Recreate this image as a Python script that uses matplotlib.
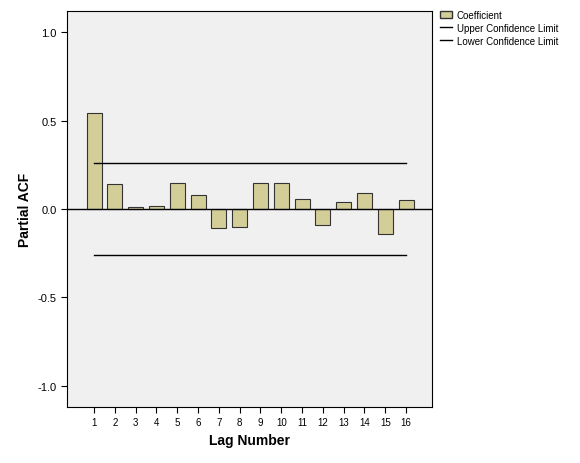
import matplotlib
matplotlib.use("Agg")
import matplotlib.pyplot as plt
from matplotlib.patches import Patch
from matplotlib.lines import Line2D

lags = list(range(1, 17))
pacf = [0.545, 0.14, 0.01, 0.015, 0.145, 0.08, -0.105, -0.10,
        0.145, 0.15, 0.055, -0.09, 0.04, 0.09, -0.14, 0.05]
upper = 0.26
lower = -0.26

plt.rcParams['font.family'] = ['Liberation Sans', 'DejaVu Sans']
fig = plt.figure(figsize=(5.8, 4.64), dpi=100)
ax = fig.add_axes([0.1155, 0.1207, 0.6295, 0.853])
ax.set_facecolor('#F0F0F0')

ax.bar(lags, pacf, width=0.72, color='#D3CE98', edgecolor='#333333', linewidth=0.8, zorder=2)
ax.plot([lags[0], lags[-1]], [upper, upper], color='black', linewidth=1, zorder=3)
ax.plot([lags[0], lags[-1]], [lower, lower], color='black', linewidth=1, zorder=3)
ax.axhline(0, color='black', linewidth=1, zorder=3)

ax.set_xlim(-0.3, 17.25)
ax.set_ylim(-1.12, 1.12)
ax.set_xticks(lags)
ax.set_xticklabels([str(l) for l in lags], fontsize=7)
ax.set_yticks([1.0, 0.5, 0.0, -0.5, -1.0])
ax.set_yticklabels(['1.0', '0.5', '0.0', '-0.5', '-1.0'], fontsize=8)
ax.tick_params(length=4, width=0.8)
ax.set_xlabel('Lag Number', fontsize=10, fontweight='bold')
ax.set_ylabel('Partial ACF', fontsize=10, fontweight='bold')

handles = [Patch(facecolor='#D3CE98', edgecolor='#333333', label='Coefficient'),
           Line2D([], [], color='black', linewidth=1, label='Upper Confidence Limit'),
           Line2D([], [], color='black', linewidth=1, label='Lower Confidence Limit')]
fig.legend(handles=handles, loc='upper left', bbox_to_anchor=(0.752, 0.985),
           frameon=False, fontsize=7, handlelength=1.2, handletextpad=0.5,
           labelspacing=0.3, borderaxespad=0)

fig.savefig('out.png', dpi=100)
